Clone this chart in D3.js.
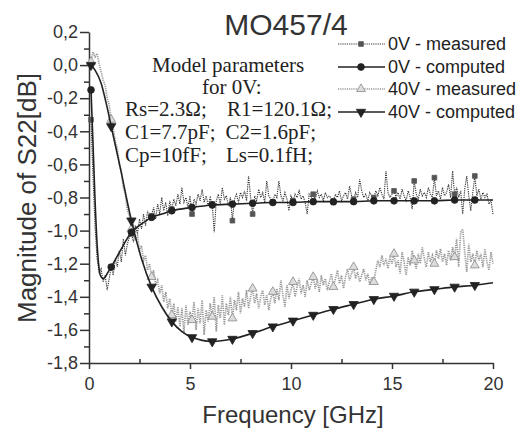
<!DOCTYPE html>
<html lang="en">
<head>
  <meta charset="UTF-8">
  <script src="https://d3js.org/d3.v7.min.js"></script>
  <title>MO457/4</title>
  <style>
    body { margin: 0; background: #fff; }
    svg { display: block; }
    .tick text { font-family: "Liberation Sans", Arial, sans-serif; font-size: 18px; fill: #333; }
    .axis path, .axis line { stroke: #333; stroke-width: 1.5px; }
    .note { font-family: "Liberation Serif", "Times New Roman", serif; font-size: 21px; fill: #222; }
    .legend text { font-family: "Liberation Sans", Arial, sans-serif; font-size: 18px; fill: #222; }
  </style>
</head>
<body>
<div id="chart"></div>
<script>
  // measured curves: one value every 0.1 GHz, from 0.1 to 20.0 GHz
  const measStart = 0.1;
  const measStep = 0.1;

  const meas0V = [
    -0.33, -0.68, -0.98, -1.17, -1.25, -1.23, -1.31, -1.27, -1.36, -1.29,
    -1.22, -1.27, -1.17, -1.22, -1.12, -1.19, -1.05, -1.15, -1.08, -1.04,
    -1.02, -1.07, -0.97, -1.02, -0.93, -0.99, -0.90, -0.97, -0.88, -0.94,
    -0.91, -0.86, -0.93, -0.84, -0.90, -0.80, -0.88, -0.83, -0.91, -0.82,
    -0.87, -0.81, -0.85, -0.78, -0.84, -0.74, -0.83, -0.80, -0.86, -0.79,
    -0.90, -0.81, -0.84, -0.78, -0.82, -0.75, -0.83, -0.79, -0.85, -0.80,
    -0.84, -1.01, -0.82, -0.78, -0.84, -0.74, -0.81, -0.79, -0.85, -0.80,
    -0.94, -0.81, -0.78, -0.83, -0.77, -0.80, -0.76, -0.82, -0.67, -0.80,
    -0.90, -0.79, -0.82, -0.75, -0.80, -0.77, -0.83, -0.70, -0.79, -0.81,
    -0.83, -0.78, -0.80, -0.70, -0.79, -0.82, -0.77, -0.81, -0.88, -0.79,
    -0.82, -0.78, -0.80, -0.76, -0.81, -0.79, -0.83, -0.90, -0.78, -0.80,
    -0.78, -0.81, -0.76, -0.80, -0.78, -0.82, -0.77, -0.80, -0.79, -0.81,
    -0.83, -0.78, -0.80, -0.76, -0.82, -0.79, -0.77, -0.81, -0.73, -0.79,
    -0.81, -0.77, -0.80, -0.69, -0.76, -0.80, -0.78, -0.82, -0.77, -0.79,
    -0.80, -0.76, -0.79, -0.74, -0.78, -0.81, -0.64, -0.77, -0.80, -0.78,
    -0.76, -0.80, -0.77, -0.81, -0.75, -0.79, -0.82, -0.76, -0.80, -0.87,
    -0.70, -0.78, -0.81, -0.75, -0.79, -0.77, -0.80, -0.74, -0.78, -0.80,
    -0.68, -0.79, -0.76, -0.81, -0.74, -0.79, -0.77, -0.72, -0.80, -0.64,
    -0.78, -0.74, -0.80, -0.76, -0.90, -0.75, -0.67, -0.79, -0.88, -0.77,
    -0.67, -0.79, -0.75, -0.81, -0.77, -0.80, -0.78, -0.84, -0.82, -0.90
  ];

  const meas40V = [
     0.02,  0.08,  0.05,  0.07,  0.01, -0.04, -0.09, -0.12, -0.20, -0.24,
    -0.33, -0.38, -0.46, -0.50, -0.60, -0.64, -0.74, -0.78, -0.88, -0.91,
    -0.99, -0.97, -1.06, -1.03, -1.12, -1.09, -1.18, -1.15, -1.24, -1.20,
    -1.28, -1.24, -1.33, -1.30, -1.38, -1.33, -1.43, -1.37, -1.47, -1.41,
    -1.51, -1.44, -1.55, -1.46, -1.58, -1.47, -1.62, -1.45, -1.57, -1.49,
    -1.54, -1.43, -1.60, -1.47, -1.56, -1.42, -1.63, -1.48, -1.55, -1.44,
    -1.52, -1.40, -1.61, -1.45, -1.53, -1.39, -1.57, -1.44, -1.51, -1.40,
    -1.53, -1.42, -1.48, -1.37, -1.50, -1.41, -1.46, -1.36, -1.47, -1.40,
    -1.35, -1.44, -1.38, -1.47, -1.40, -1.36, -1.45, -1.39, -1.48, -1.41,
    -1.37, -1.44, -1.35, -1.42, -1.30, -1.39, -1.46, -1.33, -1.41, -1.36,
    -1.31, -1.40, -1.34, -1.29, -1.38, -1.33, -1.40, -1.30, -1.36, -1.32,
    -1.28, -1.35, -1.30, -1.37, -1.27, -1.33, -1.29, -1.36, -1.31, -1.26,
    -1.34, -1.29, -1.24, -1.32, -1.27, -1.35, -1.28, -1.23, -1.30, -1.26,
    -1.22, -1.29, -1.25, -1.31, -1.27, -1.23, -1.30, -1.26, -1.33, -1.28,
    -1.31, -1.24, -1.18, -1.22, -1.15, -1.21, -1.17, -1.23, -1.16, -1.20,
    -1.14, -1.22, -1.18, -1.26, -1.13, -1.19, -1.27, -1.16, -1.21, -1.12,
    -1.18, -1.23, -1.14, -1.20, -1.10, -1.17, -1.22, -1.13, -1.19, -1.15,
    -1.20, -1.12, -1.17, -1.11, -1.19, -1.14, -1.21, -1.12, -1.18, -1.10,
    -1.16, -1.05, -1.22, -1.01, -0.99, -1.13, -1.25, -1.08, -1.19, -1.14,
    -1.21, -1.12, -1.18, -1.14, -1.22, -1.11, -1.19, -1.24, -1.13, -1.20
  ];

  // computed (model) curves
  const comp0VFreq = [0.1, 0.2, 0.3, 0.4, 0.5, 0.6, 0.7, 0.8, 0.9, 1.1, 1.6, 2.1, 2.6, 3.1, 3.6, 4.1,
    5.1, 6.1, 7.1, 8.1, 9.1, 10.1, 11.1, 12.1, 13.1, 14.1, 15.1, 16.1, 17.1, 18.1, 19.1, 20];
  const comp0V = [-0.15, -0.48, -0.82, -1.08, -1.23, -1.28, -1.29, -1.28, -1.26, -1.22, -1.11, -1.01,
    -0.96, -0.92, -0.90, -0.88, -0.86, -0.845, -0.84, -0.835, -0.83, -0.83, -0.825, -0.825, -0.825,
    -0.82, -0.82, -0.82, -0.82, -0.815, -0.815, -0.815];

  const comp40VFreq = [0.1, 0.3, 0.6, 0.85, 1.1, 1.35, 1.6, 1.85, 2.1, 2.6, 3.1, 3.6, 4.1, 4.6, 5.1,
    6.1, 7.1, 8.1, 9.1, 10.1, 11.1, 12.1, 13.1, 14.1, 15.1, 16.1, 17.1, 18.1, 19.1, 20];
  const comp40V = [0.0, -0.03, -0.11, -0.23, -0.37, -0.51, -0.65, -0.80, -0.94, -1.17, -1.34, -1.46,
    -1.55, -1.61, -1.645, -1.67, -1.655, -1.62, -1.58, -1.545, -1.51, -1.475, -1.445, -1.415, -1.395,
    -1.37, -1.355, -1.34, -1.33, -1.315];

  const xTicks = [0, 5, 10, 15, 20];
  const xMinor = [2.5, 7.5, 12.5, 17.5];
  const yTicks = [-1.8, -1.6, -1.4, -1.2, -1.0, -0.8, -0.6, -0.4, -0.2, 0.0, 0.2];
  const yMinor = [-1.7, -1.5, -1.3, -1.1, -0.9, -0.7, -0.5, -0.3, -0.1, 0.1];

  const legendLabels = ["0V - measured", "0V - computed", "40V - measured", "40V - computed"];

  const width = 516, height = 430;
  const svg = d3.select("#chart").append("svg")
    .attr("width", width).attr("height", height);

  const x = d3.scaleLinear().domain([0, 20]).range([89, 493]);
  const y = d3.scaleLinear().domain([-1.8, 0.2]).range([363, 32]);

  const comma = d3.formatLocale({decimal: ",", thousands: ".", grouping: [3], currency: ["", ""], minus: "-"})
    .format(".1f");

  // axes
  svg.append("g").attr("class", "axis")
    .attr("transform", "translate(89,0)")
    .call(d3.axisLeft(y).tickValues(yTicks).tickFormat(comma).tickSize(9).tickSizeOuter(0).tickPadding(2));
  svg.append("g").attr("class", "axis")
    .attr("transform", "translate(89,0)")
    .call(d3.axisLeft(y).tickValues(yMinor).tickFormat("").tickSize(5).tickSizeOuter(0))
    .select(".domain").remove();

  svg.append("g").attr("class", "axis")
    .attr("transform", "translate(0,363)")
    .call(d3.axisBottom(x).tickValues(xTicks).tickFormat(d3.format("d")).tickSize(6).tickSizeOuter(0).tickPadding(8));
  svg.append("g").attr("class", "axis")
    .attr("transform", "translate(0,363)")
    .call(d3.axisBottom(x).tickValues(xMinor).tickFormat("").tickSize(-4).tickSizeOuter(0))
    .select(".domain").remove();

  // axis titles
  svg.append("text")
    .attr("x", 293).attr("y", 423)
    .attr("text-anchor", "middle")
    .style("font-family", "'Liberation Sans', Arial, sans-serif")
    .style("font-size", "24px").style("fill", "#333")
    .text("Frequency [GHz]");

  svg.append("text")
    .attr("transform", "translate(36,198) rotate(-90)")
    .attr("text-anchor", "middle")
    .style("font-family", "'Liberation Sans', Arial, sans-serif")
    .style("font-size", "26px").style("fill", "#333")
    .text("Magnitude of S22[dB]");

  svg.append("text")
    .attr("x", 286).attr("y", 35)
    .attr("text-anchor", "middle")
    .style("font-family", "'Liberation Sans', Arial, sans-serif")
    .style("font-size", "30px").style("fill", "#333")
    .text("MO457/4");

  // model parameter note
  const note = svg.append("g");
  note.append("text").attr("class", "note").attr("x", 152).attr("y", 72).text("Model parameters");
  note.append("text").attr("class", "note").attr("x", 202).attr("y", 94).text("for 0V:");
  note.append("text").attr("class", "note").attr("x", 125).attr("y", 116).text("Rs=2.3Ω;");
  note.append("text").attr("class", "note").attr("x", 332).attr("y", 116).attr("text-anchor", "end").text("R1=120.1Ω;");
  note.append("text").attr("class", "note").attr("x", 125).attr("y", 139).text("C1=7.7pF;");
  note.append("text").attr("class", "note").attr("x", 316).attr("y", 139).attr("text-anchor", "end").text("C2=1.6pF;");
  note.append("text").attr("class", "note").attr("x", 125).attr("y", 162).text("Cp=10fF;");
  note.append("text").attr("class", "note").attr("x", 313).attr("y", 162).attr("text-anchor", "end").text("Ls=0.1fH;");

  // build point lists
  const measFreq = meas0V.map((d, i) => +(measStart + i * measStep).toFixed(2));
  const pts0m = meas0V.map((v, i) => [measFreq[i], v]);
  const pts40m = meas40V.map((v, i) => [measFreq[i], v]);
  const pts0c = comp0V.map((v, i) => [comp0VFreq[i], v]);
  const pts40c = comp40V.map((v, i) => [comp40VFreq[i], v]);

  const isMarker = f => Math.abs((f - 0.1) - Math.round(f - 0.1)) < 1e-6 && f < 19.5;

  const lineM = d3.line().x(d => x(d[0])).y(d => y(d[1]));
  const lineC = d3.line().x(d => x(d[0])).y(d => y(d[1])).curve(d3.curveMonotoneX);

  const styles = [
    {stroke: "#333", width: 1.1, dash: "1.2,1", marker: "square", fill: "#555", mstroke: "#555"},
    {stroke: "#222", width: 1.6, dash: null, marker: "circle", fill: "#222", mstroke: "#222"},
    {stroke: "#999", width: 1.7, dash: "1.2,1", marker: "triUp", fill: "#ddd", mstroke: "#888"},
    {stroke: "#222", width: 1.6, dash: null, marker: "triDown", fill: "#222", mstroke: "#222"}
  ];

  const sym = {
    square: d3.symbol().type(d3.symbolSquare).size(22),
    circle: d3.symbol().type(d3.symbolCircle).size(36),
    triUp: d3.symbol().type(d3.symbolTriangle).size(34),
    triDown: d3.symbol().type(d3.symbolTriangle).size(38)
  };

  function drawSeries(pts, st, line, markPts) {
    svg.append("path")
      .attr("d", line(pts))
      .attr("fill", "none")
      .attr("stroke", st.stroke)
      .attr("stroke-width", st.width)
      .attr("stroke-dasharray", st.dash);
    svg.append("g").selectAll("path")
      .data(markPts)
      .enter().append("path")
      .attr("d", sym[st.marker]())
      .attr("transform", d => `translate(${x(d[0])},${y(d[1])})` + (st.marker === "triDown" ? " rotate(180)" : ""))
      .attr("fill", st.fill)
      .attr("stroke", st.mstroke)
      .attr("stroke-width", 0.8);
  }

  drawSeries(pts40m, styles[2], lineM, pts40m.filter(d => isMarker(d[0])));
  drawSeries(pts0m, styles[0], lineM, pts0m.filter(d => isMarker(d[0])));
  drawSeries(pts40c, styles[3], lineC, pts40c.filter(d => isMarker(d[0])));
  drawSeries(pts0c, styles[1], lineC, pts0c.filter(d => isMarker(d[0])));

  // legend
  const rowY = [44, 67, 89, 112];
  const legend = svg.append("g").attr("class", "legend");
  legendLabels.forEach((lab, i) => {
    const st = styles[i];
    legend.append("line")
      .attr("x1", 338).attr("x2", 385).attr("y1", rowY[i]).attr("y2", rowY[i])
      .attr("stroke", st.stroke).attr("stroke-width", st.width)
      .attr("stroke-dasharray", st.dash);
    legend.append("path")
      .attr("d", sym[st.marker]())
      .attr("transform", `translate(361,${rowY[i]})` + (st.marker === "triDown" ? " rotate(180)" : ""))
      .attr("fill", st.fill).attr("stroke", st.mstroke).attr("stroke-width", 0.8);
    legend.append("text")
      .attr("x", 388).attr("y", rowY[i] + 6)
      .text(lab);
  });
</script>
</body>
</html>
